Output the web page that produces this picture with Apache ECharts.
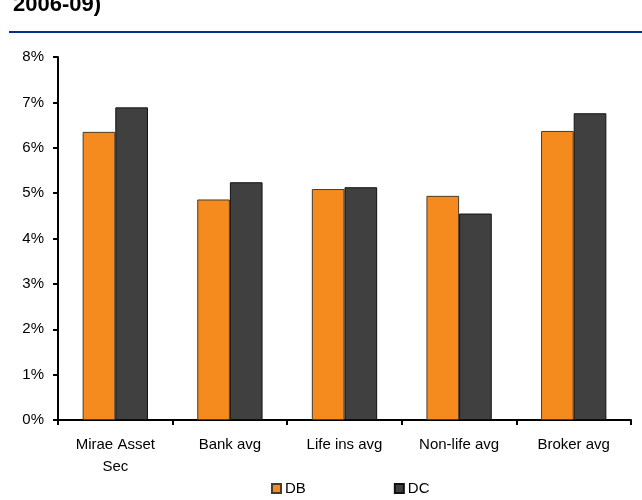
<!DOCTYPE html>
<html>
<head>
<meta charset="utf-8">
<style>
  html, body { margin: 0; padding: 0; background: #fff; }
  #chart { width: 642px; height: 500px; }
</style>
<script src="https://cdn.jsdelivr.net/npm/echarts@6/dist/echarts.min.js"></script>
</head>
<body>
<div id="chart"></div>
<script>
// Categories along the x axis
const categories = ['Mirae Asset\nSec', 'Bank avg', 'Life ins avg', 'Non-life avg', 'Broker avg'];
// Series values, in percent
const dbValues = [6.35, 4.86, 5.09, 4.94, 6.37];
const dcValues = [6.89, 5.24, 5.13, 4.55, 6.76];
// Y-axis tick range
const yTicks = { min: 0, max: 8, interval: 1 };

const FONT = 'Liberation Sans, Arial, sans-serif';

const chart = echarts.init(document.getElementById('chart'), null, { renderer: 'canvas' });

chart.setOption({
  animation: false,
  backgroundColor: '#ffffff',
  title: {
    text: '2006-09)',
    left: 8,
    top: -11,
    textStyle: { fontFamily: FONT, fontSize: 22, fontWeight: 'bold', color: '#000' }
  },
  graphic: [{
    type: 'line',
    shape: { x1: 9, y1: 32, x2: 642, y2: 32 },
    style: { stroke: '#00338D', lineWidth: 2 }
  }],
  legend: {
    left: 266,
    top: 476,
    itemWidth: 9,
    itemHeight: 9,
    itemGap: 88,
    icon: 'rect',
    textStyle: { fontFamily: FONT, fontSize: 15, color: '#000', padding: [0, 0, 0, -1] },
    data: ['DB', 'DC']
  },
  grid: { left: 58, right: 11, top: 57, bottom: 80, containLabel: false },
  xAxis: {
    type: 'category',
    data: categories,
    axisLine: { show: true, lineStyle: { color: '#000', width: 2 } },
    axisTick: { show: true, length: 5, lineStyle: { color: '#000', width: 2 } },
    axisLabel: {
      fontFamily: FONT, fontSize: 15, color: '#000',
      margin: 14, lineHeight: 22, interval: 0
    }
  },
  yAxis: {
    type: 'value',
    min: yTicks.min,
    max: yTicks.max,
    interval: yTicks.interval,
    splitLine: { show: false },
    axisLine: { show: true, lineStyle: { color: '#000', width: 2 } },
    axisTick: { show: true, length: 5, lineStyle: { color: '#000', width: 2 } },
    axisLabel: {
      formatter: '{value}%',
      fontFamily: FONT, fontSize: 15, color: '#000', margin: 14
    }
  },
  series: [
    {
      name: 'DB',
      type: 'bar',
      data: dbValues,
      barGap: '0%',
      barCategoryGap: '43%',
      itemStyle: { color: '#F58B1F', borderColor: '#4a3b2c', borderWidth: 1 }
    },
    {
      name: 'DC',
      type: 'bar',
      data: dcValues,
      barGap: '0%',
      barCategoryGap: '43%',
      itemStyle: { color: '#404040', borderColor: '#111', borderWidth: 1 }
    }
  ]
});
</script>
</body>
</html>
